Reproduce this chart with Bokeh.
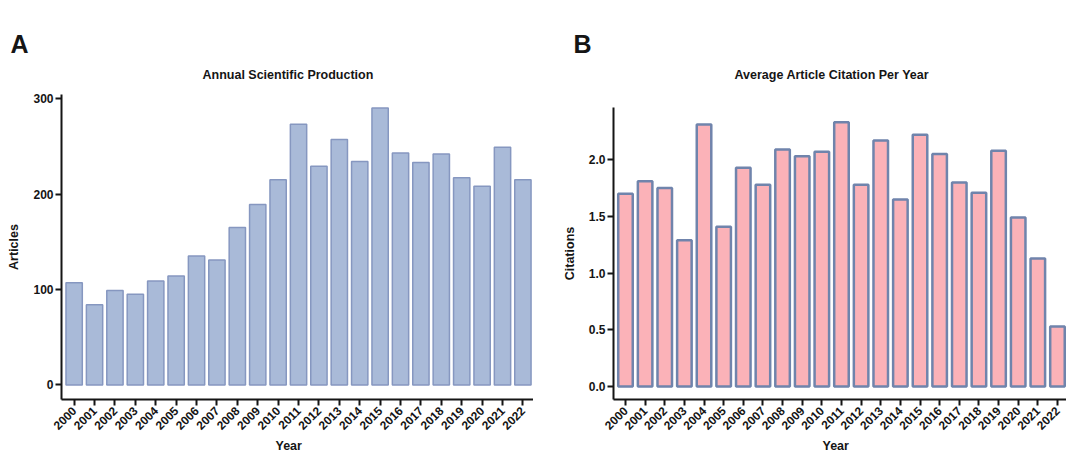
import math
from bokeh.plotting import figure
from bokeh.models import Range1d, FixedTicker, Title, PrintfTickFormatter, ColumnDataSource
from bokeh.layouts import row, column
from bokeh.embed import file_html
from bokeh.resources import INLINE

years = ["2000", "2001", "2002", "2003", "2004", "2005", "2006", "2007", "2008", "2009", "2010",
         "2011", "2012", "2013", "2014", "2015", "2016", "2017", "2018", "2019", "2020", "2021", "2022"]
articles = [107, 84, 99, 95, 109, 114, 135, 131, 165, 189, 215, 273, 229, 257, 234, 290,
            243, 233, 242, 217, 208, 249, 215]
citations = [1.70, 1.81, 1.75, 1.29, 2.31, 1.41, 1.93, 1.78, 2.09, 2.03, 2.07, 2.33, 1.78,
             2.17, 1.65, 2.22, 2.05, 1.80, 1.71, 2.08, 1.49, 1.13, 0.53]
articles_ticks = [0, 100, 200, 300]
citation_ticks = [0.0, 0.5, 1.0, 1.5, 2.0]

FONT = "Liberation Sans"
INK = "#151515"
pos = list(range(len(years)))


def style_axes(p):
    for ax in (p.xaxis[0], p.yaxis[0]):
        ax.axis_line_width = 2
        ax.axis_line_color = INK
        ax.major_tick_line_width = 2
        ax.major_tick_line_color = INK
        ax.major_tick_in = 0
        ax.major_tick_out = 6
        ax.minor_tick_line_color = None
        ax.major_label_text_font = FONT
        ax.major_label_text_font_style = "bold"
        ax.major_label_text_font_size = "12px"
        ax.major_label_text_color = INK
        ax.axis_label_text_font = FONT
        ax.axis_label_text_font_style = "bold"
        ax.axis_label_text_font_size = "12.5px"
        ax.axis_label_text_color = INK
    p.xaxis.ticker = FixedTicker(ticks=pos)
    p.xaxis.major_label_overrides = {i: y for i, y in enumerate(years)}
    p.xaxis.major_label_orientation = math.pi / 4
    p.xaxis.major_label_standoff = 3
    p.yaxis.major_label_standoff = 2
    p.yaxis.axis_label_standoff = 9
    p.grid.grid_line_color = None
    p.outline_line_color = None
    p.background_fill_color = "white"
    p.border_fill_color = "white"


def title(p, text, offset, place, size="12.5px", standoff=10):
    p.add_layout(Title(text=text, align="left", offset=offset, standoff=standoff,
                       text_font=FONT, text_font_style="bold", text_font_size=size,
                       text_color=INK), place)


def spacer(p, height):
    p.add_layout(Title(text=" ", standoff=height, text_font_size="1px",
                       text_color="white"), "above")


# ---------- Panel A ----------
pA = figure(width=533, height=454, output_backend="svg", toolbar_location=None, title=None,
            x_range=Range1d(-0.62, 22.52), y_range=Range1d(-15.2, 304.2),
            min_border=0, min_border_left=61, min_border_right=0,
            min_border_top=94, min_border_bottom=55)
srcA = ColumnDataSource(dict(x=pos, top=articles))
pA.vbar(x="x", top="top", bottom=0, width=0.8, source=srcA,
        fill_color="#a9bad8", line_color="#8697c0", line_width=1.5)
style_axes(pA)
pA.yaxis.ticker = FixedTicker(ticks=articles_ticks)
pA.yaxis.axis_label = "Articles"
spacer(pA, 8)
title(pA, "Annual Scientific Production", 141, "above", standoff=4)
title(pA, "A", -51, "above", size="25px", standoff=12)
title(pA, "Year", 214, "below", standoff=0)

# ---------- Panel B ----------
pB = figure(width=533, height=454, output_backend="svg", toolbar_location=None, title=None,
            x_range=Range1d(-0.61, 22.46), y_range=Range1d(-0.1145, 2.461),
            min_border=0, min_border_left=80, min_border_right=0,
            min_border_top=107, min_border_bottom=55)
srcB = ColumnDataSource(dict(x=pos, top=citations))
pB.vbar(x="x", top="top", bottom=0, width=0.74, source=srcB,
        fill_color="#fbb2b8", line_color="#7084ac", line_width=2.5)
style_axes(pB)
pB.yaxis.ticker = FixedTicker(ticks=citation_ticks)
pB.yaxis.formatter = PrintfTickFormatter(format="%.1f")
pB.yaxis.axis_label = "Citations"
spacer(pB, 21)
title(pB, "Average Article Citation Per Year", 121, "above", standoff=4)
title(pB, "B", -40, "above", size="25px", standoff=12)
title(pB, "Year", 209, "below", standoff=0)

layout = row(column(pA), column(pB), spacing=0)
open("out.html", "w").write(file_html(layout, INLINE))
